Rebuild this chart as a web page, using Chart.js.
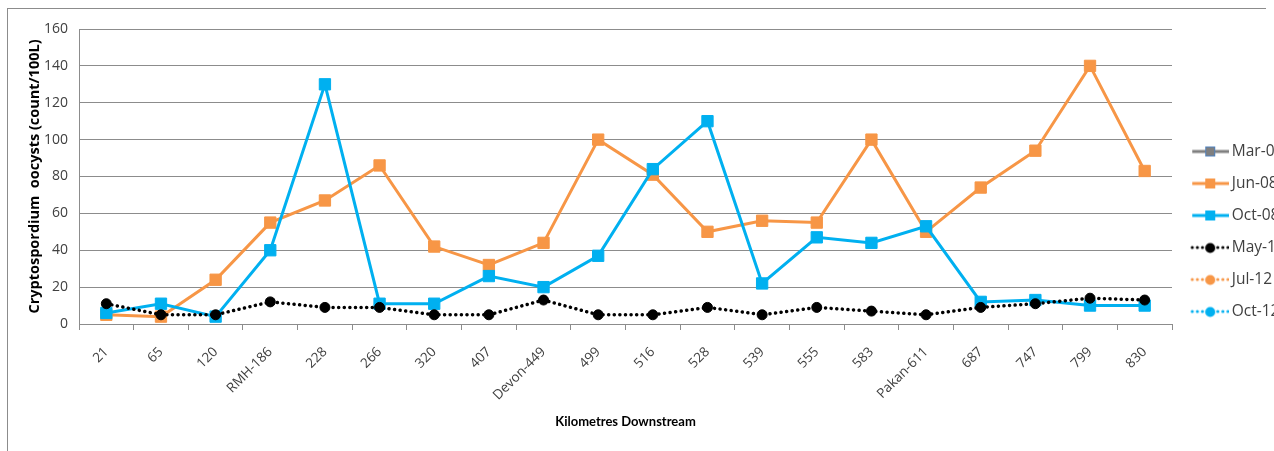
<!DOCTYPE html>
<html>
<head>
<meta charset="utf-8">
<script src="https://cdn.jsdelivr.net/npm/chart.js@4.4.1/dist/chart.umd.min.js"></script>
<style>
  html, body { margin: 0; padding: 0; background: #fff; overflow: hidden; }
  #wrap { position: relative; width: 1274px; height: 451px; overflow: hidden; }
  #frame { position: absolute; left: 7px; top: 8px; width: 1258px; height: 460px;
           border-left: 1px solid #8c8c8c; border-top: 1px solid #8c8c8c; }
  canvas { position: absolute; left: 0; top: 0; }
</style>
</head>
<body>
<div id="wrap">
  <div id="frame"></div>
  <canvas id="chLine" width="1274" height="451"></canvas>
</div>
<script>
// Sites (km downstream)
const labels = ["21", "65", "120", "RMH-186", "228", "266", "320", "407", "Devon-449", "499",
                "516", "528", "539", "555", "583", "Pakan-611", "687", "747", "799", "830"];

// Series values (count/100L)
const mar08 = [];
const jun08 = [5, 4, 24, 55, 67, 86, 42, 32, 44, 100, 81, 50, 56, 55, 100, 50, 74, 94, 140, 83];
const oct08 = [6, 11, 4, 40, 130, 11, 11, 26, 20, 37, 84, 110, 22, 47, 44, 53, 12, 13, 10, 10];
const may12 = [11, 5, 5, 12, 9, 9, 5, 5, 13, 5, 5, 9, 5, 9, 7, 5, 9, 11, 14, 13];
const jul12 = [];
const oct12 = [];

// y axis
const yMin = 0;
const yMax = 160;
const yStep = 20;

Chart.defaults.font.family = "'Open Sans', Lato, sans-serif";
Chart.defaults.color = "#404040";

// legend icons: line with marker in the middle, like the spreadsheet legend
function makeIcon(color, dotted, marker, fill, edge) {
  var c = document.createElement("canvas");
  c.width = 46;
  c.height = 16;
  var ctx = c.getContext("2d");
  ctx.strokeStyle = color;
  ctx.lineWidth = 3;
  if (dotted) {
    ctx.setLineDash([0.1, 5]);
    ctx.lineCap = "round";
  }
  ctx.beginPath();
  ctx.moveTo(9, 8);
  ctx.lineTo(46, 8);
  ctx.stroke();
  ctx.setLineDash([]);
  ctx.fillStyle = fill;
  if (marker === "rect") {
    ctx.fillRect(22, 3, 10, 10);
    if (edge) {
      ctx.strokeStyle = edge;
      ctx.lineWidth = 1;
      ctx.strokeRect(22.5, 3.5, 9, 9);
    }
  } else {
    ctx.beginPath();
    ctx.arc(27, 8.5, 5, 0, Math.PI * 2);
    ctx.fill();
  }
  return c;
}

const legendIcons = [
  makeIcon("#7f7f7f", false, "rect", "#7f7f7f", "#4f81bd"),
  makeIcon("#f79646", false, "rect", "#f79646"),
  makeIcon("#00b0f0", false, "rect", "#00b0f0"),
  makeIcon("#000000", true, "circle", "#000000"),
  makeIcon("#f79646", true, "circle", "#f79646"),
  makeIcon("#00b0f0", true, "circle", "#00b0f0"),
];

function solid(label, values, color, order) {
  return {
    label: label, data: values, order: order,
    borderColor: color, backgroundColor: color, borderWidth: 3,
    pointStyle: "rect", pointRadius: 8, pointBorderWidth: 1,
    pointBackgroundColor: color, pointBorderColor: color, tension: 0,
  };
}

function dotted(label, values, color, order) {
  return {
    label: label, data: values, order: order,
    borderColor: color, backgroundColor: color, borderWidth: 3.5,
    borderDash: [0.1, 5.5], borderCapStyle: "round",
    pointStyle: "circle", pointRadius: 5, pointBorderWidth: 1,
    pointBackgroundColor: color, pointBorderColor: color, tension: 0,
  };
}

const data = {
  labels: labels,
  datasets: [
    Object.assign(solid("Mar-08", mar08, "#7f7f7f", 6), { pointBorderColor: "#4f81bd" }),
    solid("Jun-08", jun08, "#f79646", 5),
    solid("Oct-08", oct08, "#00b0f0", 4),
    dotted("May-12", may12, "#000000", 3),
    dotted("Jul-12", jul12, "#f79646", 2),
    dotted("Oct-12", oct12, "#00b0f0", 1),
  ],
};

const config = {
  type: "line",
  data: data,
  options: {
    responsive: false,
    animation: false,
    devicePixelRatio: 1,
    layout: { padding: { left: 22, top: 29, right: 0, bottom: 17 } },
    plugins: {
      tooltip: { enabled: false },
      legend: {
        position: "right",
        maxWidth: 102,
        labels: {
          usePointStyle: true,
          pointStyleWidth: 35.5,
          padding: 16.5,
          color: "#404040",
          font: { size: 15.5 },
          generateLabels: function (chart) {
            var items = Chart.defaults.plugins.legend.labels.generateLabels(chart);
            items.sort(function (a, b) { return a.datasetIndex - b.datasetIndex; });
            items.forEach(function (it) { it.pointStyle = legendIcons[it.datasetIndex]; });
            return items;
          },
        },
      },
    },
    scales: {
      x: {
        offset: true,
        grid: { display: true, drawOnChartArea: false, drawTicks: true, tickLength: 6, color: "#8c8c8c", offset: true },
        border: { color: "#8c8c8c" },
        ticks: { autoSkip: false, minRotation: 45, maxRotation: 45, padding: 14, font: { size: 13.5 }, color: "#404040" },
        title: { display: true, text: "Kilometres Downstream", color: "#000", font: { family: "Lato", size: 13, weight: "bold" }, padding: { top: 4, bottom: 4 } },
        afterFit: function (scale) { scale.height = 110; },
      },
      y: {
        min: yMin,
        max: yMax,
        ticks: { stepSize: yStep, padding: 11, font: { size: 14 }, color: "#404040" },
        grid: { color: "#8c8c8c", drawTicks: false },
        border: { color: "#8c8c8c" },
        title: { display: true, text: "Cryptospordium  oocysts (count/100L)", color: "#000", font: { size: 14.5, weight: "bold" }, padding: { top: 4, bottom: 4 } },
        afterFit: function (scale) { scale.width = 57; },
      },
    },
  },
};

var myChart = new Chart(document.getElementById("chLine"), config);
</script>
</body>
</html>
